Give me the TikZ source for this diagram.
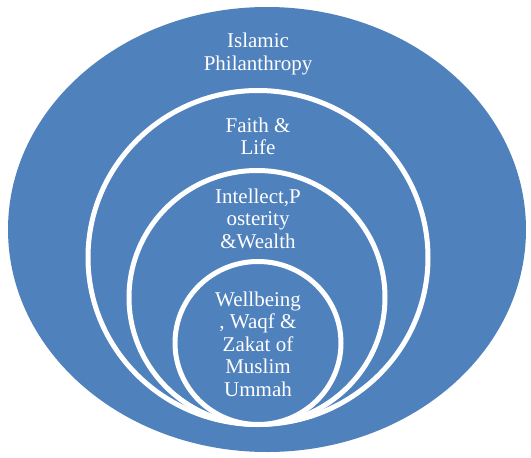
\documentclass[tikz,border=0pt]{standalone}
\usepackage{fontspec}
\setmainfont{Liberation Serif}
\definecolor{ringblue}{HTML}{4F81BD}
\begin{document}
\begin{tikzpicture}[x=1pt,y=-1pt,
  ring/.style={fill=ringblue,draw=white,line width=5pt},
  lbl/.style={text=white,anchor=base,inner sep=0pt,font=\fontsize{21}{22.5}\selectfont}]
\useasboundingbox (0,0) rectangle (531,458);
\fill[white] (0,0) rectangle (531,458);
\fill[ringblue] (267,229.5) ellipse [x radius=259, y radius=222.5];
\draw[ring] (258,257.5) ellipse [x radius=170, y radius=167];
\draw[ring] (257,297.5) ellipse [x radius=128, y radius=127];
\draw[ring] (258,343) ellipse [x radius=83, y radius=81.5];
\node[lbl] (a1) at (258,47.5) {Islamic};
\node[lbl] (a2) at (258,70) {Philanthropy};
\node[lbl] (b1) at (258,132) {Faith \&};
\node[lbl] (b2) at (258,154.5) {Life};
\node[lbl] (c1) at (258,203) {Intellect,P};
\node[lbl] (c2) at (258,225.5) {osterity};
\node[lbl] (c3) at (258,248) {\&Wealth};
\node[lbl] (d1) at (258,306) {Wellbeing};
\node[lbl] (d2) at (258,328.5) {, Waqf \&};
\node[lbl] (d3) at (258,351) {Zakat of};
\node[lbl] (d4) at (258,373.5) {Muslim};
\node[lbl] (d5) at (258,396) {Ummah};
\end{tikzpicture}
\end{document}
